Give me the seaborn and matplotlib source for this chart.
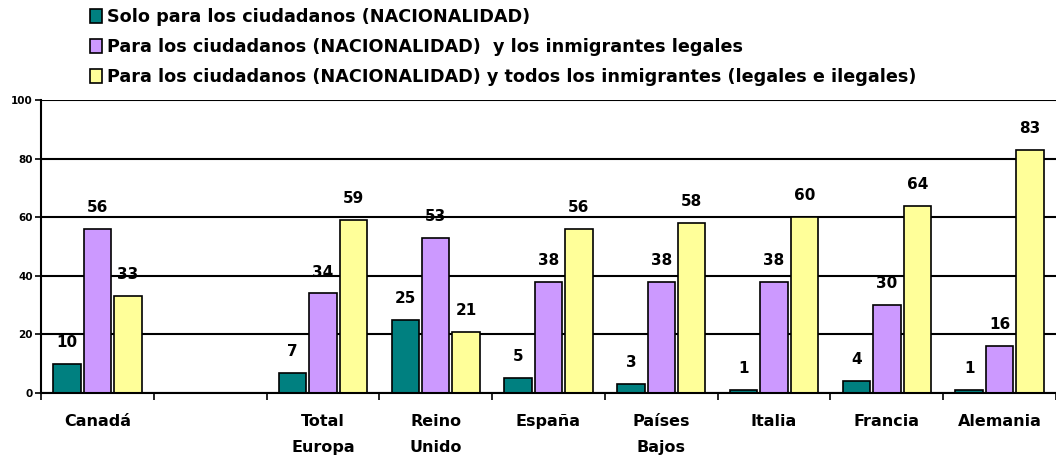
import numpy as np
import pandas as pd
import matplotlib
matplotlib.use("Agg")
import matplotlib.pyplot as plt
import seaborn as sns

# data
paises = ["Canadá", " ", "Total\nEuropa", "Reino\nUnido", "España",
          "Países\nBajos", "Italia", "Francia", "Alemania"]
solo_ciudadanos = [10, np.nan, 7, 25, 5, 3, 1, 4, 1]
con_legales = [56, np.nan, 34, 53, 38, 38, 38, 30, 16]
con_todos = [33, np.nan, 59, 21, 56, 58, 60, 64, 83]
series = ["Solo para los ciudadanos (NACIONALIDAD)",
          "Para los ciudadanos (NACIONALIDAD)  y los inmigrantes legales",
          "Para los ciudadanos (NACIONALIDAD) y todos los inmigrantes (legales e ilegales)"]
colores = ["#008080", "#CC99FF", "#FFFF99"]

df = pd.DataFrame({
    "pais": paises * 3,
    "serie": [series[0]] * 9 + [series[1]] * 9 + [series[2]] * 9,
    "valor": solo_ciudadanos + con_legales + con_todos,
})

sns.set_style("white")
plt.rcParams["font.family"] = ["DejaVu Sans"]
plt.rcParams["text.color"] = "black"
plt.rcParams["xtick.color"] = "black"
plt.rcParams["ytick.color"] = "black"

fig = plt.figure(figsize=(10.56, 4.57), dpi=100)
ax = fig.add_axes([0.0388, 0.140, 0.9612, 0.641])

sns.barplot(data=df, x="pais", y="valor", hue="serie", order=paises,
            hue_order=series, palette=colores, saturation=1, width=0.81, gap=0.1,
            edgecolor="black", linewidth=1.2, errorbar=None, legend=False, ax=ax)

# value labels above each bar
for cont in ax.containers:
    for bar in cont:
        if bar is None or np.isnan(bar.get_height()):
            continue
        ax.annotate(f"{bar.get_height():.0f}",
                    (bar.get_x() + bar.get_width() / 2, bar.get_height()),
                    xytext=(0, 10), textcoords="offset points",
                    ha="center", va="bottom", fontsize=11, fontweight="bold")

ax.set_ylim(0, 100)
ax.set_xlim(-0.5, 8.5)
ax.set_yticks([0, 20, 40, 60, 80, 100])
ax.yaxis.grid(True, color="black", linewidth=1.5)
ax.set_axisbelow(True)
ax.set_xlabel("")
ax.set_ylabel("")

ax.set_xticks(range(9))
ax.set_xticklabels(paises, fontsize=11.5, fontweight="bold", linespacing=1.95, va="top")
ax.set_xticks(np.arange(-0.5, 9, 1), minor=True)
ax.tick_params(axis="x", which="major", bottom=False, length=0, pad=15)
ax.tick_params(axis="x", which="minor", bottom=True, length=5, width=1.2,
               color="black", direction="out")
ax.tick_params(axis="y", left=True, length=4, width=1.2, color="black",
               direction="out", pad=2, labelsize=7.5)
for t in ax.get_yticklabels():
    t.set_fontweight("bold")

for s in ["top", "right"]:
    ax.spines[s].set_visible(False)
for s in ["left", "bottom"]:
    ax.spines[s].set_color("black")
    ax.spines[s].set_linewidth(1.5)

# legend at the top
handles = [plt.Rectangle((0, 0), 1, 1, facecolor=c, edgecolor="black", linewidth=1.2)
           for c in colores]
fig.legend(handles, series, loc="upper left", bbox_to_anchor=(0.07, 1.017),
           frameon=False, handlelength=0.7, handleheight=0.8, handletextpad=0.3,
           labelspacing=0.68, prop={"weight": "bold", "size": 12.7})

fig.savefig("out.png", dpi=100)
